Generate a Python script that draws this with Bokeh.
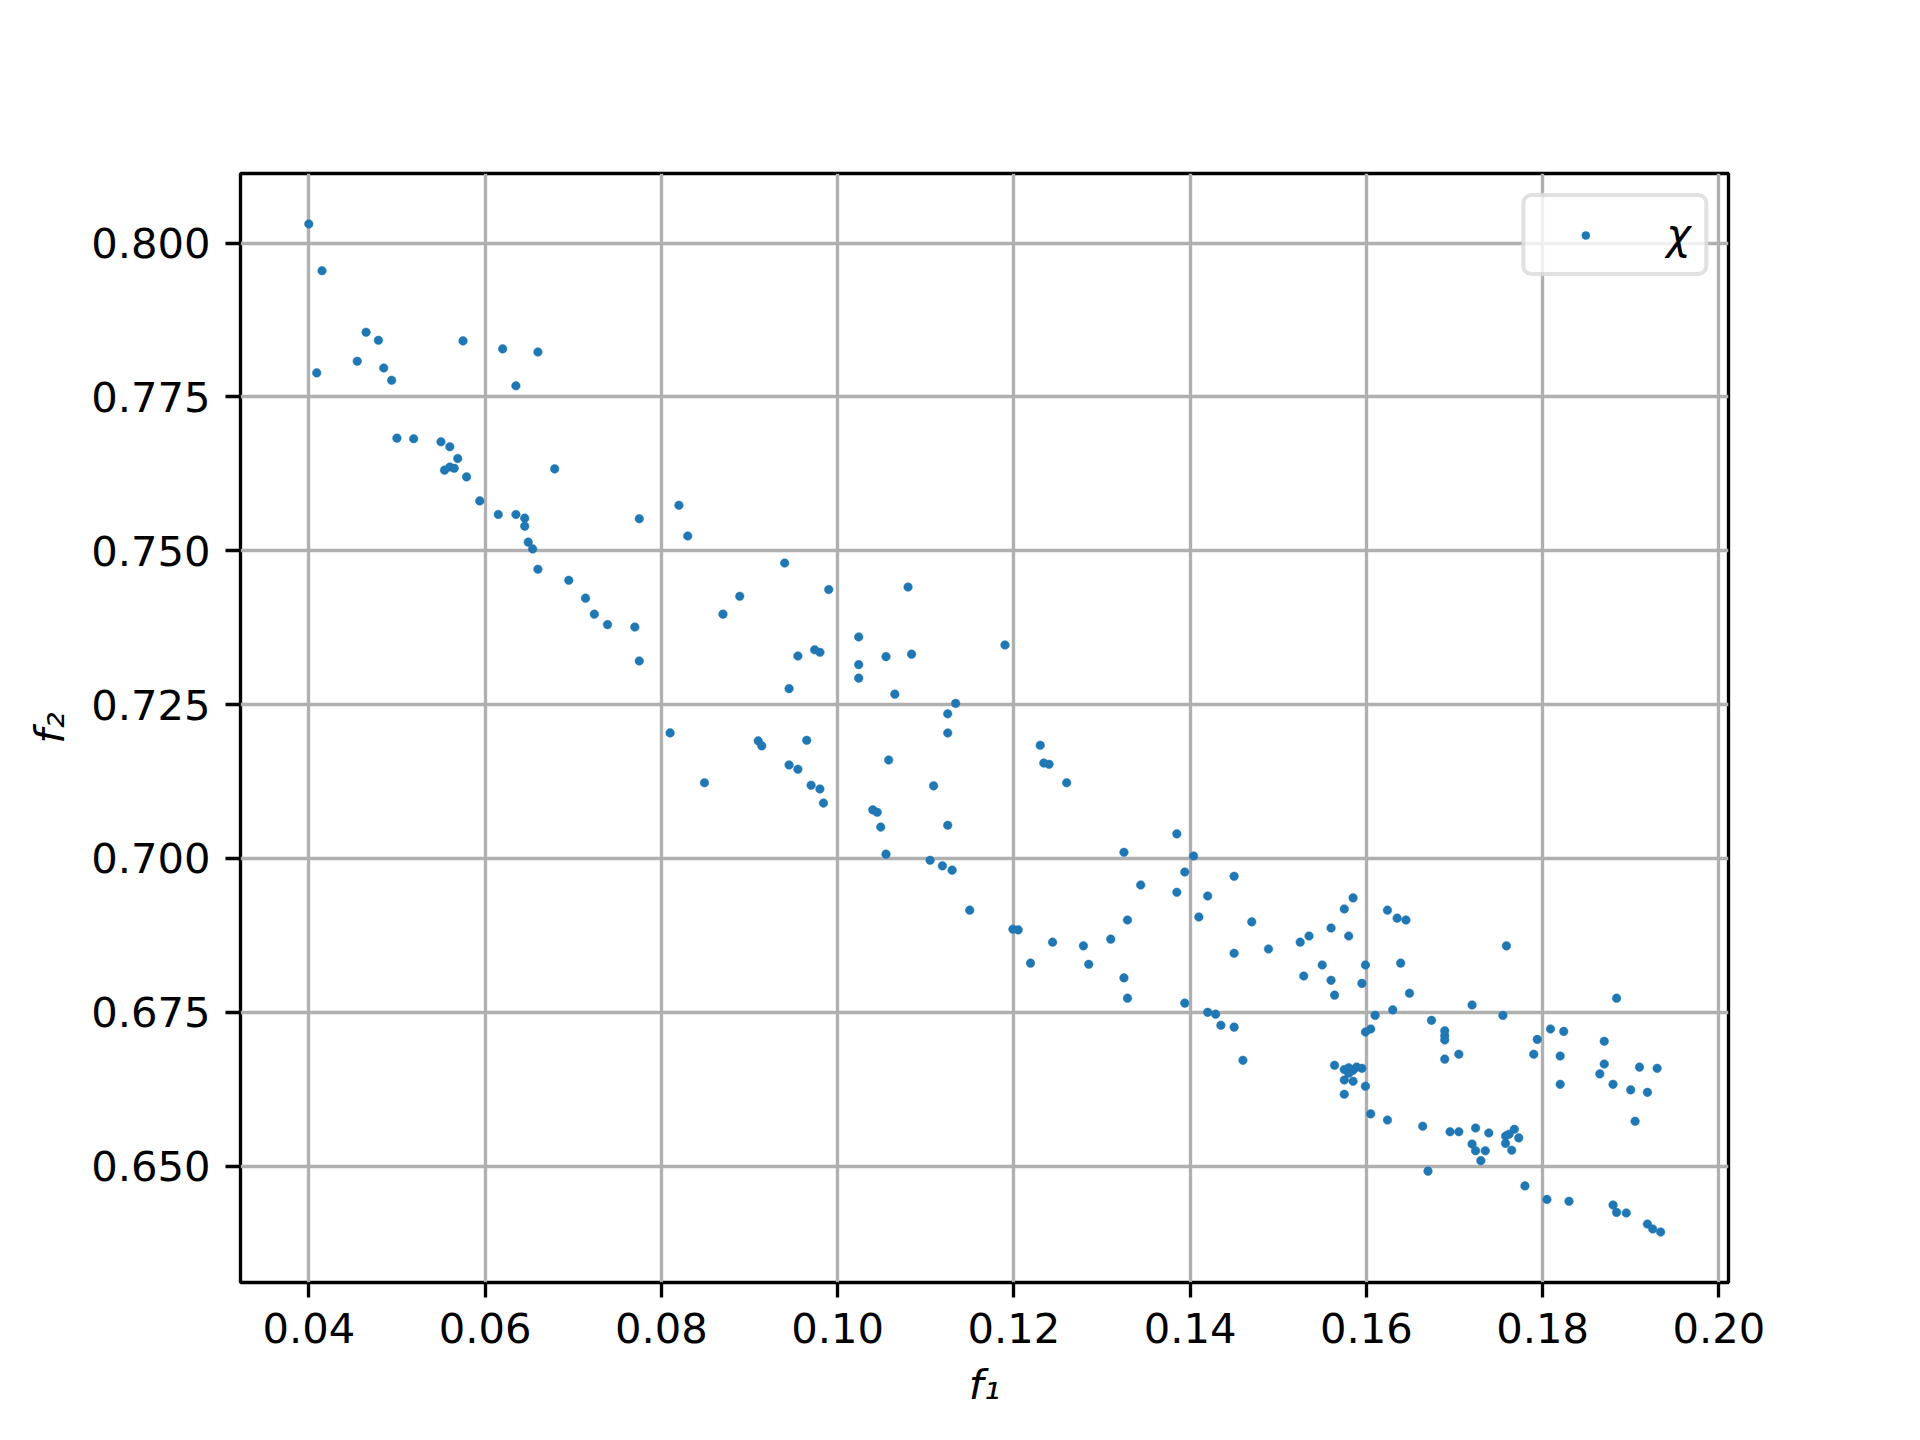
from bokeh.plotting import figure
from bokeh.models import (Range1d, FixedTicker, Legend, LegendItem, ColumnDataSource,
                          NumeralTickFormatter)
from bokeh.embed import file_html
from bokeh.resources import INLINE

# ---------------- data ----------------
f1_values = [
    0.0400, 0.0415, 0.0465, 0.0479, 0.0575, 0.0620, 0.0660, 0.0455, 0.0409, 0.0485,
    0.0494, 0.0635, 0.0500, 0.0519, 0.0550, 0.0560, 0.0569, 0.0554, 0.0560, 0.0565,
    0.0579, 0.0679, 0.0594, 0.0615, 0.0635, 0.0645, 0.0645, 0.0649, 0.0654, 0.0660,
    0.0695, 0.0714, 0.0775, 0.0820, 0.0830, 0.0940, 0.0990, 0.0889, 0.0870, 0.0724,
    0.0739, 0.0770, 0.0775, 0.1024, 0.1055, 0.1024, 0.1024, 0.0955, 0.0974, 0.0980,
    0.0945, 0.0810, 0.0849, 0.0910, 0.0914, 0.0965, 0.0945, 0.0955, 0.0970, 0.0980,
    0.0984, 0.1058, 0.1040, 0.1045, 0.1049, 0.1055, 0.1080, 0.1190, 0.1084, 0.1065,
    0.1134, 0.1125, 0.1125, 0.1109, 0.1230, 0.1234, 0.1240, 0.1260, 0.1125, 0.1105,
    0.1119, 0.1130, 0.1150, 0.1199, 0.1205, 0.1219, 0.1244, 0.1279, 0.1285, 0.1310,
    0.1325, 0.1329, 0.1344, 0.1325, 0.1329, 0.1385, 0.1394, 0.1385, 0.1394, 0.1404,
    0.1450, 0.1420, 0.1410, 0.1470, 0.1450, 0.1489, 0.1525, 0.1535, 0.1560, 0.1575,
    0.1585, 0.1580, 0.1529, 0.1550, 0.1560, 0.1564, 0.1599, 0.1595, 0.1624, 0.1635,
    0.1645, 0.1639, 0.1649, 0.1630, 0.1610, 0.1720, 0.1674, 0.1420, 0.1429, 0.1435,
    0.1450, 0.1460, 0.1599, 0.1605, 0.1689, 0.1689, 0.1689, 0.1705, 0.1689, 0.1564,
    0.1575, 0.1580, 0.1585, 0.1589, 0.1595, 0.1580, 0.1575, 0.1585, 0.1599, 0.1575,
    0.1605, 0.1624, 0.1664, 0.1695, 0.1705, 0.1724, 0.1739, 0.1720, 0.1724, 0.1735,
    0.1730, 0.1670, 0.1759, 0.1884, 0.1755, 0.1809, 0.1824, 0.1794, 0.1870, 0.1790,
    0.1820, 0.1870, 0.1910, 0.1930, 0.1865, 0.1820, 0.1880, 0.1900, 0.1919, 0.1905,
    0.1758, 0.1762, 0.1768, 0.1773, 0.1758, 0.1765, 0.1780, 0.1805, 0.1830, 0.1880,
    0.1884, 0.1895, 0.1919, 0.1925, 0.1934,
]
f2_values = [
    0.8031, 0.7955, 0.7855, 0.7842, 0.7841, 0.7828, 0.7823, 0.7808, 0.7789, 0.7797,
    0.7777, 0.7768, 0.7683, 0.7682, 0.7677, 0.7669, 0.7650, 0.7631, 0.7636, 0.7634,
    0.7620, 0.7633, 0.7581, 0.7559, 0.7559, 0.7553, 0.7540, 0.7514, 0.7503, 0.7470,
    0.7452, 0.7423, 0.7552, 0.7574, 0.7524, 0.7480, 0.7437, 0.7426, 0.7397, 0.7397,
    0.7380, 0.7376, 0.7321, 0.7360, 0.7328, 0.7315, 0.7293, 0.7329, 0.7339, 0.7335,
    0.7276, 0.7204, 0.7123, 0.7191, 0.7183, 0.7192, 0.7152, 0.7145, 0.7119, 0.7113,
    0.7090, 0.7160, 0.7079, 0.7075, 0.7051, 0.7007, 0.7441, 0.7347, 0.7332, 0.7267,
    0.7252, 0.7235, 0.7204, 0.7118, 0.7184, 0.7155, 0.7153, 0.7123, 0.7054, 0.6997,
    0.6988, 0.6981, 0.6916, 0.6885, 0.6884, 0.6830, 0.6864, 0.6858, 0.6828, 0.6869,
    0.7010, 0.6900, 0.6957, 0.6806, 0.6773, 0.7040, 0.6978, 0.6945, 0.6765, 0.7004,
    0.6971, 0.6939, 0.6905, 0.6897, 0.6846, 0.6853, 0.6864, 0.6874, 0.6887, 0.6918,
    0.6936, 0.6874, 0.6809, 0.6827, 0.6802, 0.6778, 0.6827, 0.6797, 0.6916, 0.6903,
    0.6900, 0.6830, 0.6781, 0.6754, 0.6745, 0.6762, 0.6737, 0.6750, 0.6747, 0.6729,
    0.6726, 0.6672, 0.6718, 0.6723, 0.6720, 0.6712, 0.6705, 0.6682, 0.6674, 0.6664,
    0.6657, 0.6660, 0.6656, 0.6661, 0.6659, 0.6651, 0.6640, 0.6638, 0.6630, 0.6617,
    0.6585, 0.6575, 0.6565, 0.6556, 0.6556, 0.6562, 0.6554, 0.6536, 0.6525, 0.6525,
    0.6509, 0.6492, 0.6858, 0.6773, 0.6745, 0.6723, 0.6719, 0.6706, 0.6703, 0.6682,
    0.6679, 0.6666, 0.6661, 0.6659, 0.6650, 0.6633, 0.6633, 0.6624, 0.6620, 0.6573,
    0.6549, 0.6552, 0.6560, 0.6546, 0.6537, 0.6526, 0.6468, 0.6446, 0.6443, 0.6437,
    0.6425, 0.6424, 0.6406, 0.6398, 0.6393,
]
series_label = "χ"
x_axis_label = "f₁"
y_axis_label = "f₂"
x_ticks = [0.04, 0.06, 0.08, 0.10, 0.12, 0.14, 0.16, 0.18, 0.20]
x_tick_labels = ["0.04", "0.06", "0.08", "0.10", "0.12", "0.14", "0.16", "0.18", "0.20"]
y_ticks = [0.650, 0.675, 0.700, 0.725, 0.750, 0.775, 0.800]
y_tick_labels = ["0.650", "0.675", "0.700", "0.725", "0.750", "0.775", "0.800"]

# ---------------- figure ----------------
FONT = "DejaVu Sans"
FS = "41.7px"
LW = 3.33
BLUE = "#1f77b4"

p = figure(width=1920, height=1440, output_backend="svg", toolbar_location=None,
           title=None,
           x_range=Range1d(0.03225, 0.2011), y_range=Range1d(0.6311, 0.8113),
           min_border_left=240, min_border_right=192,
           min_border_top=173, min_border_bottom=158)
p.background_fill_color = "white"
p.border_fill_color = "white"
p.outline_line_color = "black"
p.outline_line_width = LW

src = ColumnDataSource(data=dict(f1=f1_values, f2=f2_values))
r = p.scatter(x="f1", y="f2", source=src, size=8.6, marker="circle",
              fill_color=BLUE, line_color=BLUE, line_width=0.5)

# axes
p.xaxis.ticker = FixedTicker(ticks=x_ticks)
p.yaxis.ticker = FixedTicker(ticks=y_ticks)
p.xaxis.formatter = NumeralTickFormatter(format="0.00")
p.yaxis.formatter = NumeralTickFormatter(format="0.000")
p.xaxis.major_label_overrides = {t: l for t, l in zip(x_ticks, x_tick_labels)}
p.yaxis.major_label_overrides = {t: l for t, l in zip(y_ticks, y_tick_labels)}
p.xaxis.axis_label = x_axis_label
p.yaxis.axis_label = y_axis_label

for ax in (p.xaxis[0], p.yaxis[0]):
    ax.axis_line_color = None
    ax.major_tick_line_color = "black"
    ax.major_tick_line_width = LW
    ax.major_tick_out = 15
    ax.major_tick_in = 0
    ax.minor_tick_line_color = None
    ax.major_label_standoff = 15
    ax.major_label_text_font = FONT
    ax.major_label_text_font_size = FS
    ax.major_label_text_color = "black"
    ax.axis_label_text_font = FONT
    ax.axis_label_text_font_size = FS
    ax.axis_label_text_font_style = "italic"
    ax.axis_label_text_color = "black"
    ax.axis_label_standoff = 14

# grid
p.xgrid.ticker = FixedTicker(ticks=x_ticks)
p.ygrid.ticker = FixedTicker(ticks=y_ticks)
p.grid.grid_line_color = "#b0b0b0"
p.grid.grid_line_width = LW

# legend
legend = Legend(items=[LegendItem(label=series_label, renderers=[r])],
                location="top_right", margin=20, padding=13, spacing=0,
                glyph_width=94, glyph_height=20, label_standoff=34,
                label_text_font=FONT, label_text_font_size=FS,
                label_text_font_style="italic", label_text_color="black",
                border_line_color="#c4c4c4", border_line_width=4,
                background_fill_color="white", background_fill_alpha=0.8)
if "border_radius" in Legend.properties():
    legend.border_radius = 10
p.add_layout(legend)

open("out.html", "w").write(file_html(p, INLINE))
